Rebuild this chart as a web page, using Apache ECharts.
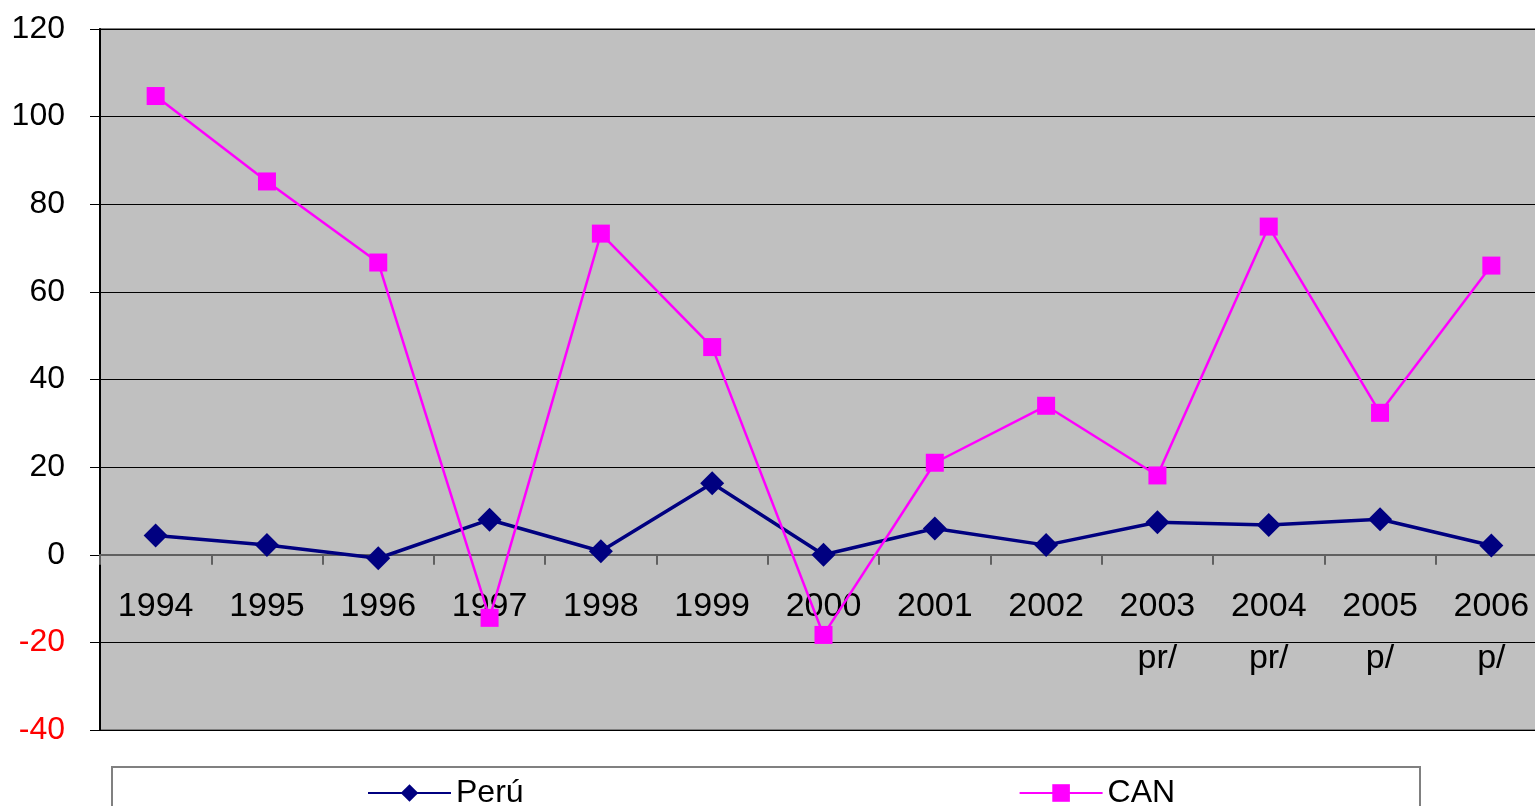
<!DOCTYPE html>
<html>
<head>
<meta charset="utf-8">
<script src="https://cdn.jsdelivr.net/npm/echarts@6/dist/echarts.min.js"></script>
<style>
  html, body { margin: 0; padding: 0; background: #fff; }
  #chart { width: 1535px; height: 806px; }
</style>
</head>
<body>
<div id="chart"></div>
<script>
// categorías (años)
const years = ['1994', '1995', '1996', '1997', '1998', '1999', '2000', '2001', '2002', '2003\npr/', '2004\npr/', '2005\np/', '2006\np/']
// valores
const peru = [4.4, 2.2, -0.8, 8.0, 0.8, 16.3, 0.0, 6.0, 2.2, 7.4, 6.8, 8.1, 2.1]
const can = [104.7, 85.2, 66.7, -14.4, 73.3, 47.4, -18.3, 21.0, 34.0, 18.1, 74.9, 32.4, 66.0]
const yTicks = [-40, -20, 0, 20, 40, 60, 80, 100, 120]

const chart = echarts.init(document.getElementById('chart'))

const option = {
  animation: false,
  textStyle: { fontFamily: 'Liberation Sans, Arial, sans-serif' },
  grid: {
    left: 100,
    top: 29,
    width: 1447,
    height: 701,
    outerBoundsMode: 'none',
    containLabel: false,
    show: true,
    backgroundColor: '#c0c0c0',
    borderColor: '#808080',
    borderWidth: 2
  },
  legend: {
    left: 362,
    top: 772,
    itemWidth: 83,
    itemHeight: 22,
    itemGap: 495,
    textStyle: { fontSize: 32, color: '#000', fontFamily: 'Liberation Sans, Arial, sans-serif' },
    data: ['Perú', 'CAN']
  },
  graphic: [
    {
      type: 'rect',
      shape: { x: 112, y: 767, width: 1308, height: 60 },
      style: { fill: '#fff', stroke: '#808080', lineWidth: 2 },
      z: -1
    }
  ],
  xAxis: {
    type: 'category',
    data: years,
    boundaryGap: true,
    axisLine: { onZero: true, lineStyle: { color: '#606060', width: 2 } },
    axisTick: { show: true, length: 10, lineStyle: { color: '#606060', width: 2 } },
    // etiquetas justo debajo de la línea del cero
    axisLabel: { fontSize: 34, color: '#000', margin: -149, lineHeight: 52, interval: 0 }
  },
  yAxis: {
    type: 'value',
    min: yTicks[0],
    max: yTicks[yTicks.length - 1],
    interval: 20,
    axisLine: { show: true, lineStyle: { color: '#000', width: 2 } },
    axisTick: { show: true, length: 10, lineStyle: { color: '#000' } },
    splitLine: { show: true, lineStyle: { color: '#000', width: 1 } },
    axisLabel: {
      fontSize: 32,
      margin: 35,
      color: function (v) { return Number(v) < 0 ? '#ff0000' : '#000' }
    }
  },
  series: [
    {
      name: 'Perú',
      type: 'line',
      data: peru,
      symbol: 'diamond',
      symbolSize: 24,
      itemStyle: { color: '#000080' },
      lineStyle: { color: '#000080', width: 3.5 }
    },
    {
      name: 'CAN',
      type: 'line',
      data: can,
      symbol: 'rect',
      symbolSize: 18,
      itemStyle: { color: '#ff00ff' },
      lineStyle: { color: '#ff00ff', width: 2.5 }
    }
  ]
}

chart.setOption(option)
</script>
</body>
</html>
